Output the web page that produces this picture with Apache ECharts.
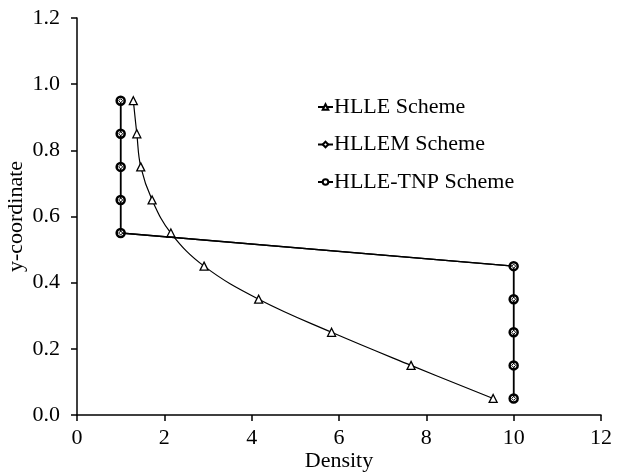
<!DOCTYPE html>
<html><head><meta charset="utf-8">
<script src="https://cdn.jsdelivr.net/npm/echarts@6/dist/echarts.min.js"></script>
<style>html,body{margin:0;padding:0;background:#fff}#c{width:621px;height:475px}</style>
</head><body><div id="c"></div>
<script>
const yValues = [0.95, 0.85, 0.75, 0.65, 0.55, 0.45, 0.35, 0.25, 0.15, 0.05];
const hlleX = [1.29, 1.37, 1.46, 1.72, 2.15, 2.91, 4.16, 5.83, 7.65, 9.53];
const hllemX = [1, 1, 1, 1, 1, 10, 10, 10, 10, 10];
const tnpX = [1, 1, 1, 1, 1, 10, 10, 10, 10, 10];
const seriesNames = ['HLLE Scheme', 'HLLEM Scheme', 'HLLE-TNP Scheme'];

const pairs = xs => xs.map((x, i) => [x, yValues[i]]);
const font = 'Liberation Serif';
const fs = 22;
const chart = echarts.init(document.getElementById('c'));
chart.setOption({
  animation: false,
  backgroundColor: '#fff',
  grid: {left: 77, right: 20, top: 18, bottom: 60, outerBoundsMode: 'none', containLabel: false},
  legend: {
    orient: 'vertical', left: 312, top: 91, itemGap: 15.5, itemWidth: 15, itemHeight: 7,
    textStyle: {fontFamily: font, fontSize: fs, color: '#000', padding: [0,0,0,-4]},
    data: seriesNames
  },
  xAxis: {
    type: 'value', min: 0, max: 12, interval: 2,
    name: 'Density', nameLocation: 'middle', nameGap: 35, nameMoveOverlap: false,
    nameTextStyle: {fontFamily: font, fontSize: fs, color: '#000'},
    axisLine: {show: true, lineStyle: {color: '#000', width: 1.5}},
    axisTick: {show: true, length: 6, lineStyle: {color: '#000', width: 1.5}},
    axisLabel: {fontFamily: font, fontSize: fs, color: '#000', margin: 12},
    splitLine: {show: false}
  },
  yAxis: {
    type: 'value', min: 0, max: 1.2, interval: 0.2,
    name: 'y-coordinate', nameLocation: 'middle', nameGap: 50, nameMoveOverlap: false,
    nameTextStyle: {fontFamily: font, fontSize: fs, color: '#000'},
    axisLine: {show: true, lineStyle: {color: '#000', width: 1.5}},
    axisTick: {show: true, length: 6, lineStyle: {color: '#000', width: 1.5}},
    axisLabel: {fontFamily: font, fontSize: fs, color: '#000', margin: 17, formatter: v => v.toFixed(1)},
    splitLine: {show: false}
  },
  series: [
    {name: seriesNames[0], type: 'line', smooth: 0.4, data: pairs(hlleX),
     symbol: 'triangle', symbolSize: 8, showAllSymbol: true,
     itemStyle: {color: '#fff', borderColor: '#000', borderWidth: 1.3},
     lineStyle: {color: '#000', width: 1.2}, z: 3},
    {name: seriesNames[2], type: 'line', data: pairs(tnpX),
     symbol: 'circle', symbolSize: 8,
     itemStyle: {color: '#fff', borderColor: '#000', borderWidth: 2.5},
     lineStyle: {color: '#000', width: 1.5}, z: 4},
    {name: seriesNames[1], type: 'line', data: pairs(hllemX),
     symbol: 'diamond', symbolSize: 4,
     itemStyle: {color: '#fff', borderColor: '#000', borderWidth: 1},
     lineStyle: {color: '#000', width: 1.5}, z: 5}
  ]
});
</script></body></html>
